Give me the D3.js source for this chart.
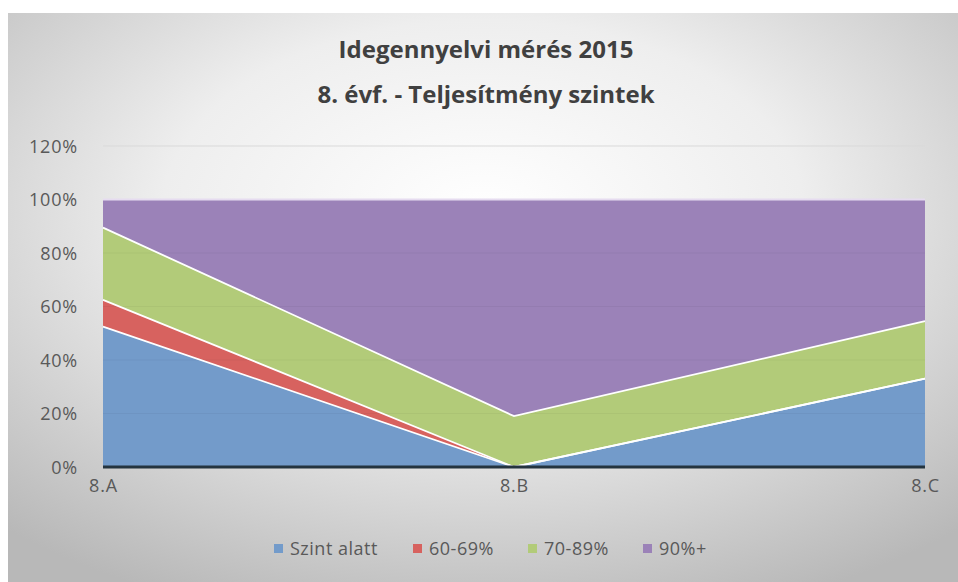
<!DOCTYPE html>
<html>
<head>
<meta charset="utf-8">
<script src="https://cdn.jsdelivr.net/npm/d3@7"></script>
<style>
  body { margin: 0; background: #ffffff; }
  svg { display: block; }
</style>
</head>
<body>
<div id="chart"></div>
<script>
// Chart data
const categories = ["8.A", "8.B", "8.C"];
const seriesNames = ["Szint alatt", "60-69%", "70-89%", "90%+"];
const szintAlatt = [0.525, 0, 0.33];
const p60 = [0.10, 0, 0];
const p70 = [0.27, 0.19, 0.215];
const p90 = [0.105, 0.81, 0.455];
const yTicks = [0, 0.2, 0.4, 0.6, 0.8, 1.0, 1.2];
const colors = ["#739bca", "#d7625f", "#b2cb79", "#9b82b8"];

const W = 958, H = 582;
const margin = { top: 146, right: 33, bottom: 115, left: 103 };
const width = W - margin.left - margin.right;
const height = H - margin.top - margin.bottom;

const rows = categories.map((c, i) => ({
    cat: c,
    "Szint alatt": szintAlatt[i],
    "60-69%": p60[i],
    "70-89%": p70[i],
    "90%+": p90[i]
}));

const svg = d3.select("#chart")
    .append("svg")
    .attr("width", W)
    .attr("height", H);

// Background gradient
const defs = svg.append("defs");
const grad = defs.append("radialGradient")
    .attr("id", "bg")
    .attr("cx", "50%").attr("cy", "35%")
    .attr("r", "75%");
grad.append("stop").attr("offset", "0%").attr("stop-color", "#ffffff");
grad.append("stop").attr("offset", "45%").attr("stop-color", "#eeeeee");
grad.append("stop").attr("offset", "100%").attr("stop-color", "#b8b8b8");

svg.append("rect")
    .attr("x", 8).attr("y", 13)
    .attr("width", W - 8).attr("height", H - 13)
    .attr("fill", "url(#bg)");

// Title
const title = svg.append("text")
    .attr("x", 486)
    .attr("text-anchor", "middle")
    .style("font-family", "'Open Sans', sans-serif")
    .style("font-weight", "bold")
    .style("font-size", "24px")
    .attr("fill", "#404040");
title.append("tspan").attr("x", 486).attr("y", 58).text("Idegennyelvi mérés 2015");
title.append("tspan").attr("x", 486).attr("y", 103).text("8. évf. - Teljesítmény szintek");

const g = svg.append("g")
    .attr("transform", "translate(" + margin.left + "," + margin.top + ")");

// Scales
const xScale = d3.scalePoint()
    .domain(categories)
    .range([0, width]);

const yScale = d3.scaleLinear()
    .domain([0, 1.2])
    .range([height, 0]);

// Stack
const stack = d3.stack().keys(seriesNames);
const layers = stack(rows);

const area = d3.area()
    .x(d => xScale(d.data.cat))
    .y0(d => yScale(d[0]))
    .y1(d => yScale(d[1]));

const topLine = d3.line()
    .x(d => xScale(d.data.cat))
    .y(d => yScale(d[1]));

// Gridlines
g.selectAll(".grid")
    .data(yTicks.slice(1))
    .enter()
    .append("line")
    .attr("class", "grid")
    .attr("x1", 0).attr("x2", width)
    .attr("y1", d => yScale(d)).attr("y2", d => yScale(d))
    .attr("stroke", "#d9d9d9")
    .attr("stroke-width", 1);

// Areas
g.selectAll(".layer")
    .data(layers)
    .enter()
    .append("path")
    .attr("class", "layer")
    .attr("d", area)
    .attr("fill", (d, i) => colors[i]);

// Faint gridlines showing through the areas
g.selectAll(".grid2")
    .data(yTicks.slice(1, 6))
    .enter()
    .append("line")
    .attr("class", "grid2")
    .attr("x1", 0).attr("x2", width)
    .attr("y1", d => yScale(d)).attr("y2", d => yScale(d))
    .attr("stroke", "#000")
    .attr("stroke-opacity", 0.04)
    .attr("stroke-width", 1);

// White borders on top of each layer
g.selectAll(".edge")
    .data(layers)
    .enter()
    .append("path")
    .attr("class", "edge")
    .attr("d", topLine)
    .attr("fill", "none")
    .attr("stroke", (d, i) => i === 3 ? "#e6dcf0" : "#ffffff")
    .attr("stroke-width", 1.8);

// Baseline
g.append("line")
    .attr("x1", 0).attr("x2", width)
    .attr("y1", yScale(0)).attr("y2", yScale(0))
    .attr("stroke", "#24343f")
    .attr("stroke-width", 3);

const labelFont = "'Open Sans', sans-serif";

// Y axis
const yAxis = g.append("g")
    .attr("transform", "translate(-22,0)")
    .call(d3.axisLeft(yScale).tickValues(yTicks).tickFormat(d3.format(".0%")).tickSize(0));
yAxis.select(".domain").remove();
yAxis.selectAll("text")
    .attr("dy", "0.35em")
    .style("font-family", labelFont)
    .style("font-size", "18px")
    .style("letter-spacing", "0.8px")
    .attr("fill", "#595959");

// X axis
const xAxis = g.append("g")
    .attr("transform", "translate(0," + (height + 9) + ")")
    .call(d3.axisBottom(xScale).tickSize(0));
xAxis.select(".domain").remove();
xAxis.selectAll("text")
    .style("font-family", labelFont)
    .style("font-size", "18px")
    .style("letter-spacing", "0.8px")
    .attr("fill", "#595959");

// Legend
const legendX = [274, 413, 528, 643];
const legend = svg.append("g");
seriesNames.forEach((name, i) => {
    legend.append("rect")
        .attr("x", legendX[i])
        .attr("y", 544)
        .attr("width", 9)
        .attr("height", 9)
        .attr("fill", colors[i]);
    legend.append("text")
        .attr("x", legendX[i] + 16)
        .attr("y", 555)
        .text(name)
        .style("font-family", labelFont)
        .style("font-size", "18px")
        .style("letter-spacing", "0.5px")
        .attr("fill", "#595959");
});
</script>
</body>
</html>
